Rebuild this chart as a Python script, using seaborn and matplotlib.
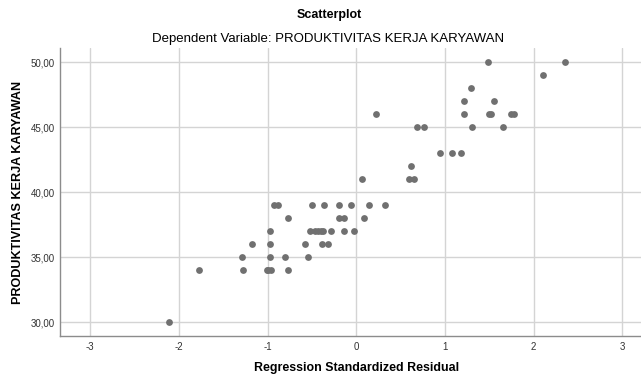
import matplotlib
matplotlib.use("Agg")
import matplotlib.pyplot as plt
import seaborn as sns
import pandas as pd

# Regression standardized residual (x) vs dependent variable (y)
residual = [
    1.48, 2.35,
    2.10,
    1.29,
    1.22, 1.55,
    0.22, 1.22, 1.52, 1.74, 1.78, 1.50,
    0.69, 0.76, 1.30, 1.65,
    0.94, 1.08, 1.18,
    0.62,
    0.07, 0.59, 0.65,
    -0.93, -0.88, -0.50, -0.36, -0.19, -0.06, 0.14, 0.32,
    -0.77, -0.19, -0.14, 0.09,
    -0.97, -0.52, -0.46, -0.43, -0.40, -0.37, -0.29, -0.14, -0.02,
    -1.18, -0.97, -0.58, -0.39, -0.32,
    -1.29, -0.97, -0.80, -0.54,
    -1.77, -1.28, -1.01, -0.99, -0.96, -0.77,
    -2.11,
]
produktivitas = [
    50, 50,
    49,
    48,
    47, 47,
    46, 46, 46, 46, 46, 46,
    45, 45, 45, 45,
    43, 43, 43,
    42,
    41, 41, 41,
    39, 39, 39, 39, 39, 39, 39, 39,
    38, 38, 38, 38,
    37, 37, 37, 37, 37, 37, 37, 37, 37,
    36, 36, 36, 36, 36,
    35, 35, 35, 35,
    34, 34, 34, 34, 34, 34,
    30,
]
x_ticks = [-3, -2, -1, 0, 1, 2, 3]
y_ticks = [30, 35, 40, 45, 50]

df = pd.DataFrame({"resid": residual, "y": produktivitas})

sns.set_theme(style="white")
plt.rcParams["font.family"] = ["Liberation Sans", "DejaVu Sans"]
plt.rcParams["text.color"] = "black"

fig = plt.figure(figsize=(6.41, 3.76), dpi=100)
ax = fig.add_axes([60 / 641, 40 / 376, 581 / 641, 287.7 / 376])

sns.scatterplot(data=df, x="resid", y="y", ax=ax, color="#707070",
                s=24, linewidth=0, zorder=3)

ax.set_xlim(-3.34, 3.21)
ax.set_ylim(28.95, 51.08)
ax.set_xticks(x_ticks)
ax.set_xticklabels([str(t) for t in x_ticks])
ax.set_yticks(y_ticks)
ax.set_yticklabels([f"{t:.2f}".replace(".", ",") for t in y_ticks])
ax.grid(True, color="#d4d4d4", linewidth=1.0)
ax.set_axisbelow(True)
ax.tick_params(length=0, labelsize=7, colors="#333333", pad=4)

for side in ["top", "right"]:
    ax.spines[side].set_visible(False)
for side in ["left", "bottom"]:
    ax.spines[side].set_color("#8c8c8c")
    ax.spines[side].set_linewidth(1.0)

ax.set_xlabel("")
ax.set_ylabel("")
fig.text(357 / 641, 1 - 368 / 376, "Regression Standardized Residual",
         ha="center", va="center", fontsize=8.9, fontweight="bold")
fig.text(18 / 641, 1 - 192 / 376, "PRODUKTIVITAS KERJA KARYAWAN",
         ha="center", va="center", rotation=90, fontsize=9.1, fontweight="bold")
fig.text(329 / 641, 1 - 15 / 376, "Scatterplot",
         ha="center", va="center", fontsize=9, fontweight="bold")
fig.text(328 / 641, 1 - 39 / 376, "Dependent Variable: PRODUKTIVITAS KERJA KARYAWAN",
         ha="center", va="center", fontsize=9.5)

fig.savefig("out.png", dpi=100)
